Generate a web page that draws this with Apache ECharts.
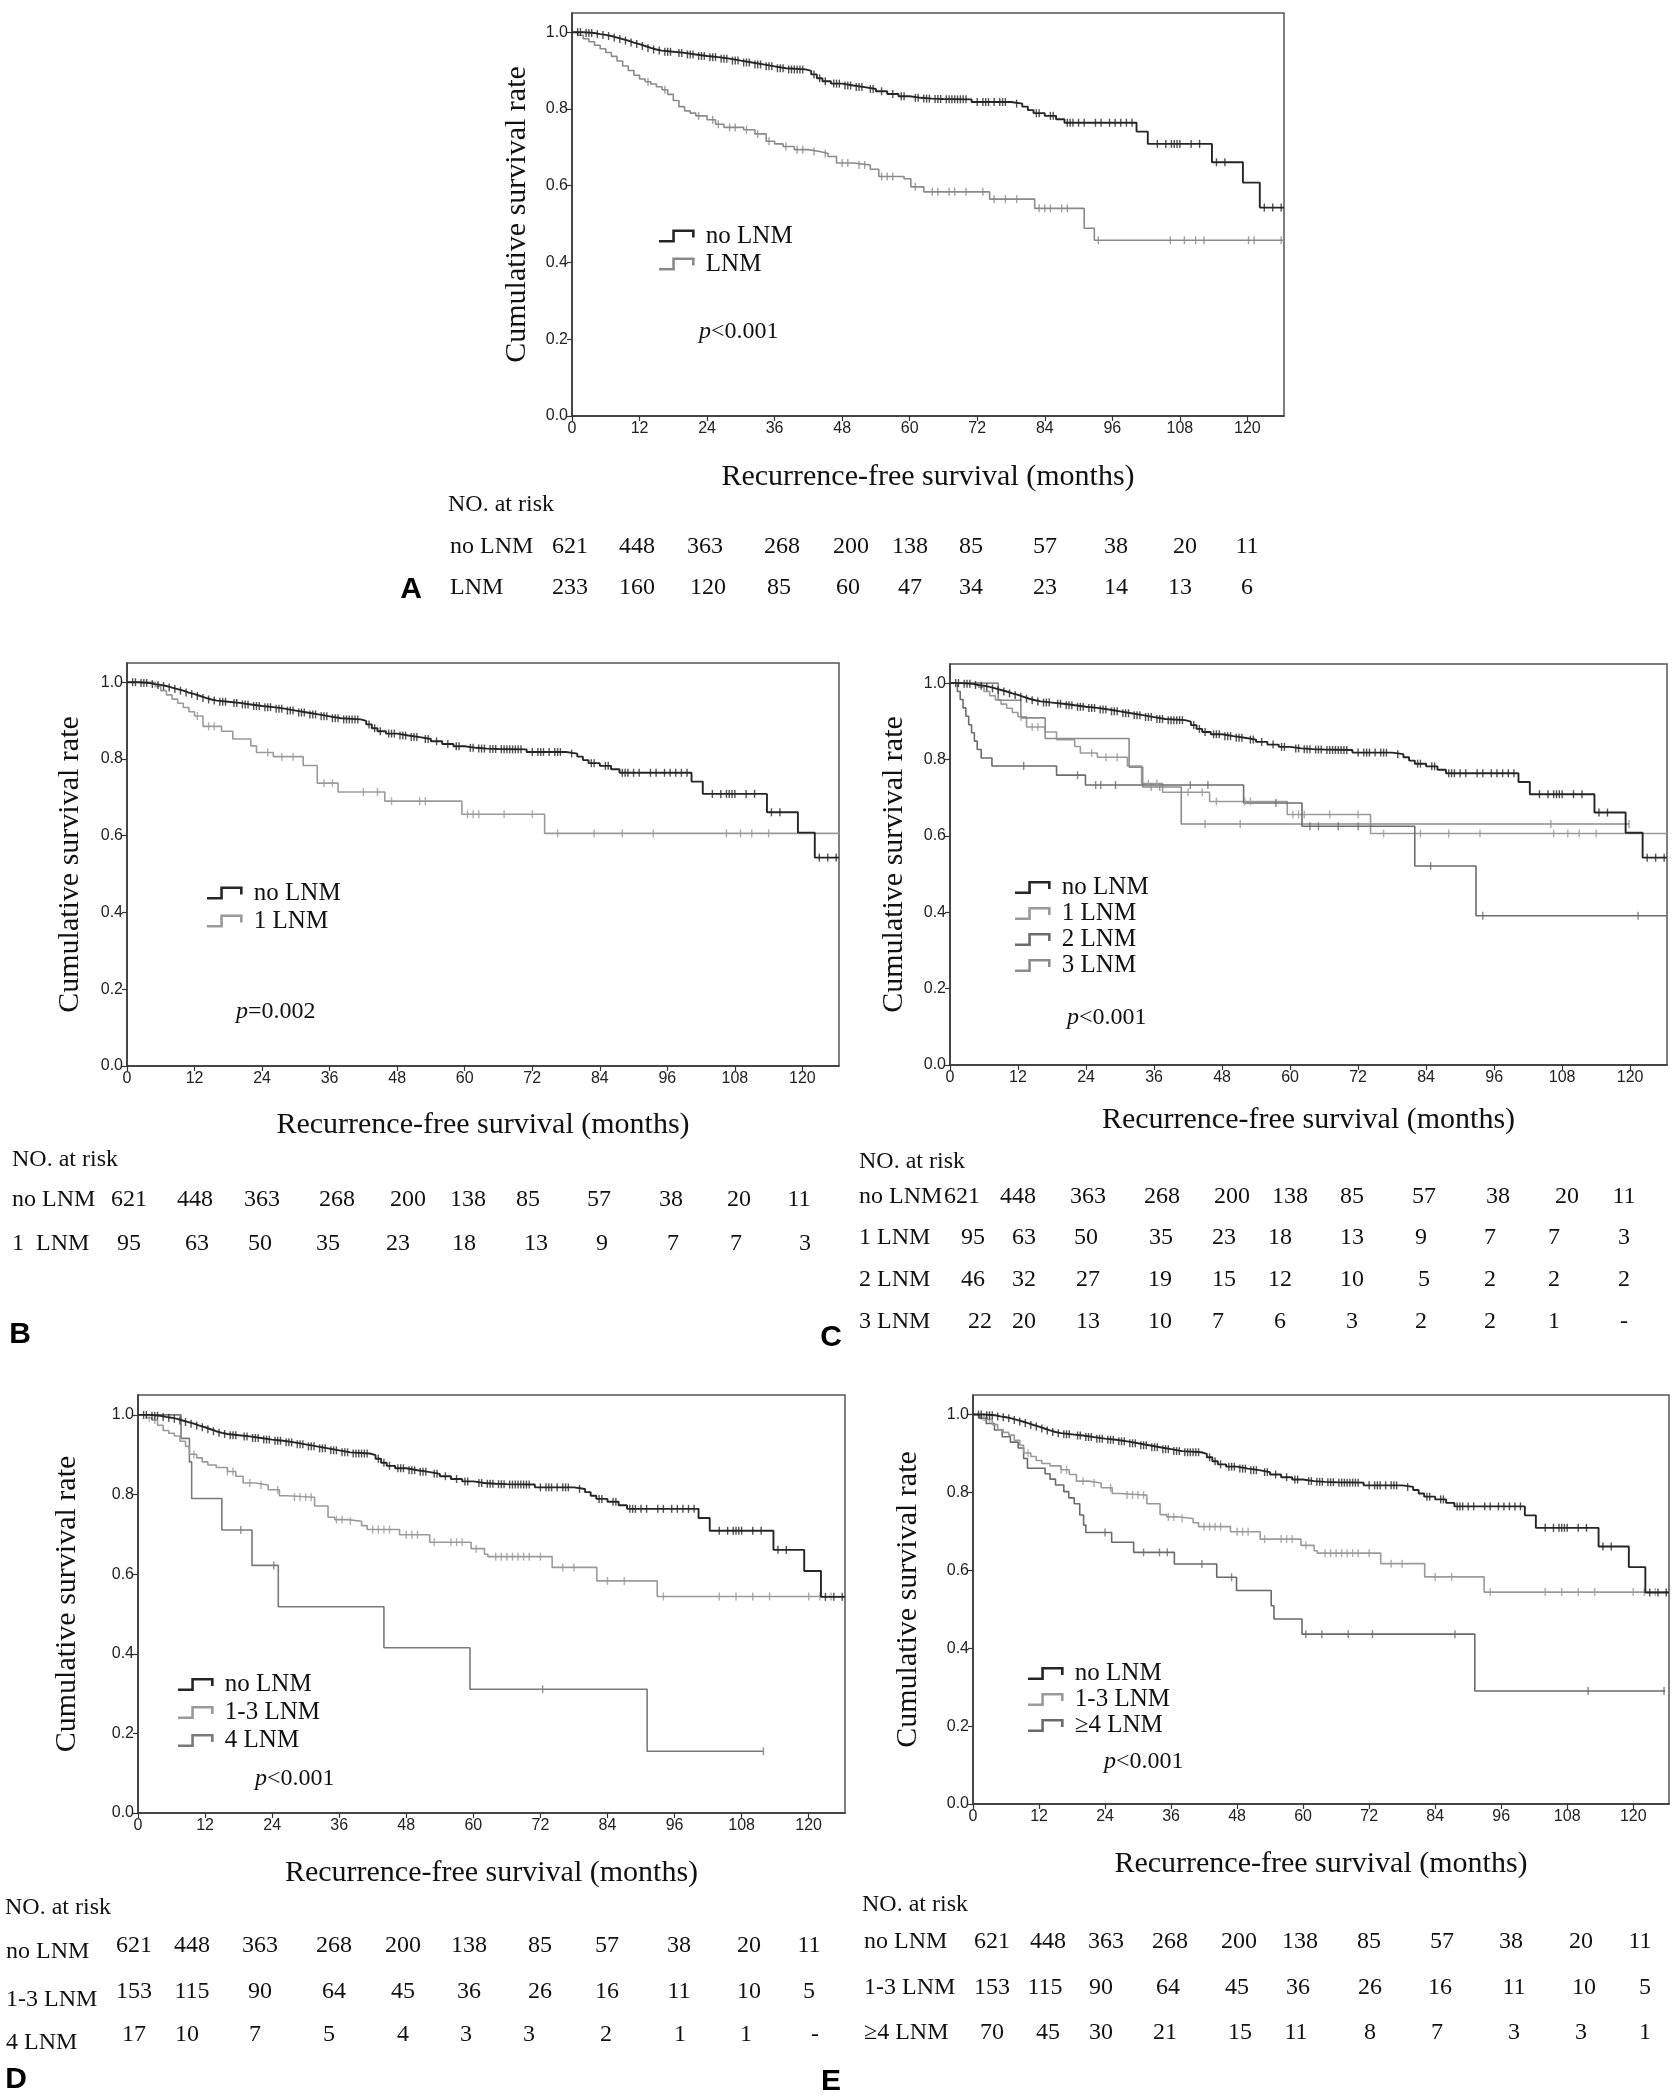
<!DOCTYPE html>
<html><head><meta charset="utf-8">
<script src="https://cdn.jsdelivr.net/npm/echarts@6/dist/echarts.min.js"></script>
<style>html,body{margin:0;padding:0;background:#fff}#c{width:1676px;height:2100px}</style>
</head><body><div id="c"></div>
<script>
// ---------------- DATA ----------------
const riskMonths = [0,12,24,36,48,60,72,84,96,108,120];
const yTickValues = [0,0.2,0.4,0.6,0.8,1.0];

// Kaplan-Meier step points: time (months) and survival after the step
const noLNM_t = [0,2,4,5,6,7,8,9,10,11,12,13,14,15,16,18,20,22,24,26,28,30,32,34,36,38,41.5,42.5,43.5,44.5,46,48,50,52,54,56,58,60,62,64,66,71,78,80,81,82,84,86,87.5,100.3,102.3,113.7,119.2,122.2,126.5];
const noLNM_s = [1.0,.998,.995,.993,.99,.986,.982,.978,.973,.969,.964,.959,.955,.952,.949,.946,.942,.938,.935,.931,.926,.921,.916,.911,.906,.903,.899,.89,.88,.872,.866,.861,.857,.852,.846,.839,.833,.829,.827,.826,.825,.818,.814,.806,.797,.789,.782,.773,.764,.741,.709,.661,.608,.543,.543];
const noLNM_cens = [1,1.5,2.5,3,3.5,4.5,5.5,6.5,7.5,8.5,9.5,10.5,11.5,12.5,13.5,14.5,15.5,16.5,17,17.5,19,19.5,20.5,21,21.5,22.5,23,23.5,24.5,25,25.5,26.5,27,27.5,28.5,29,29.5,30.5,31,31.5,32.5,33,33.5,34.5,35,35.5,36.5,37,37.5,38.5,39,39.5,40,40.5,41,43,44,45,46.5,47,47.5,48.5,49,49.5,50.5,51,51.5,53,53.5,55,57,58.5,59,61,61.5,62.5,63,63.5,64.5,65,65.5,66.5,67,67.5,68,68.5,69,69.5,70,72,73,73.5,74,75,76,76.5,77,79,82.5,83,85,85.5,88,88.5,89,90,91,93,94,95.5,96.5,97.5,98.5,99.5,104,105.5,106.5,107,107.5,108,110,111.5,114.5,116,123,124.5,126];

const LNM_t = [0,1,2,3,4,5,6,7,8,9,10,11,12,13,14,15,16,17,18,19,20,21,22,24,25.5,27,30.5,32.5,34.5,36,37.5,39.5,42,44,45.5,47,50,53,54.5,59,60.2,62.5,74.2,82.2,91,92.8,126.5];
const LNM_s = [1.0,.992,.983,.975,.966,.957,.947,.937,.925,.912,.9,.888,.878,.871,.865,.858,.85,.838,.822,.806,.795,.789,.782,.772,.76,.752,.746,.735,.716,.709,.702,.694,.689,.684,.676,.659,.654,.643,.624,.618,.597,.584,.565,.541,.489,.458,.458];
const LNM_cens = [13.5,16.5,22.5,25,26,28,29,31,33,35,38,40,41,43,45,48,49,51,52,55,56,57,61,64,65,67,68,70,73,75,77,79,83,84,85,87,88,93.5,106.3,108.8,110.8,112.3,120.2,121.2,126];

const one_t = [0,5,6,7,8,9,10,11,12,13.5,16.8,18.8,22,23,26,31.3,33.8,37.5,45.8,59.5,74.2,126.5];
const one_s = [1.0,.989,.978,.967,.956,.945,.934,.923,.912,.885,.872,.852,.834,.817,.806,.783,.737,.714,.69,.656,.606,.606];
const one_cens = [12.5,14.5,15.5,25,27.5,29.5,35,36.5,42,44.5,47,52,53,60.5,61.5,62.5,67,72,76.5,83,88,93.5,106.5,109,111,114];

const two_t = [0,1.3,1.8,2.3,2.8,3.3,3.8,4.3,4.8,5.5,7.4,18.8,23.9,51.8,62.1,82,92.8,126.5];
const two_s = [1.0,.978,.957,.935,.913,.891,.87,.848,.826,.804,.783,.759,.733,.686,.625,.521,.391,.391];
const two_cens = [13,22.5,25.7,26.6,29.2,42.4,45.5,57.5,63.5,65,68.5,72,84.8,94,121.4];

const three_t = [0,8.5,12.5,16.8,31.6,34,40.8,119.8];
const three_s = [1.0,.955,.909,.855,.78,.728,.631,.631];
const three_cens = [35.5,37,45,51.2,106,119.8];

const oneToThree_t = [0,1.5,2.5,3.5,4.5,5.5,6.5,7.5,8.5,9.2,10.5,11.5,12.5,14,16,17.5,18.8,21,23.3,25.3,26.7,31.6,34,35.2,37.5,40,41,46.8,52.2,59.6,62,62.6,74.1,82.1,92.9,126.5];
const oneToThree_s = [1.0,.993,.987,.974,.961,.954,.947,.934,.921,.901,.892,.882,.874,.868,.858,.846,.829,.824,.812,.797,.793,.771,.743,.737,.733,.722,.712,.699,.68,.664,.65,.644,.617,.583,.544,.544];
const oneToThree_cens = [2,3,10,16,17,20,22,25,28,29,30,31,35.5,36.5,38,42,43,44,45,48,49,50,53,56,57,58,60.5,64,65,66,67,68,69,70,72,76,78,84,87,94,104,107,110,113,120,122,124];

const four_t = [0,7.7,9.2,9.6,15,20.4,25.1,44,59.4,91.1,111.9];
const four_s = [1.0,.941,.882,.79,.711,.622,.518,.415,.311,.155,.155];
const four_cens = [18.4,24.3,72.4,111.9];

const geFour_t = [0,1.2,2.4,3.9,5.3,6.8,8.2,9.2,9.9,13.1,14,15,16.5,17.4,18.4,19.4,20.1,20.5,25.2,29.2,36.6,44.3,47.9,54.2,54.7,59.8,91.2,125.8];
const geFour_s = [1.0,.99,.977,.96,.943,.929,.914,.887,.862,.848,.834,.819,.802,.786,.771,.742,.716,.697,.672,.646,.616,.582,.548,.509,.475,.436,.29,.29];
const geFour_cens = [24,31,33.9,35.3,41.6,47,60.5,63.4,68.2,72.6,87.6,111.8,125.6];

// Numbers at risk
const riskNoLNM = [621,448,363,268,200,138,85,57,38,20,11];
const riskLNM = [233,160,120,85,60,47,34,23,14,13,6];
const risk1LNM = [95,63,50,35,23,18,13,9,7,7,3];
const risk2LNM = [46,32,27,19,15,12,10,5,2,2,2];
const risk3LNM = [22,20,13,10,7,6,3,2,2,1,'-'];
const risk13LNM = [153,115,90,64,45,36,26,16,11,10,5];
const risk4LNM = [17,10,7,5,4,3,3,2,1,1,'-'];
const riskGe4LNM = [70,45,30,21,15,11,8,7,3,3,1];

const pValues = ['<0.001','=0.002','<0.001','<0.001','<0.001'];

// ---------------- STYLE / LAYOUT ----------------
const SERIF = "'Liberation Serif','Times New Roman','DejaVu Serif',serif";
const TICKFONT = "'Liberation Sans Narrow','Liberation Sans',Arial,sans-serif";
const SANS = "'Liberation Sans',Arial,sans-serif";
const C_NO = '#262626', C_LNM = '#8a8a8a', C_1 = '#9a9a9a', C_2 = '#6c6c6c', C_3 = '#8c8c8c', C_13 = '#9a9a9a', C_4 = '#7a7a7a', C_GE4 = '#6a6a6a';
const ICON = 'path://M0,10.25L12.75,10.25L12.75,0.25L34.25,0.25L34.25,8L31.75,8L31.75,2.75L15.25,2.75L15.25,12.75L0,12.75Z';

const curves = {
  'no LNM': {t: noLNM_t, s: noLNM_s, c: noLNM_cens, color: C_NO},
  'LNM': {t: LNM_t, s: LNM_s, c: LNM_cens, color: C_LNM},
  '1 LNM': {t: one_t, s: one_s, c: one_cens, color: C_1},
  '2 LNM': {t: two_t, s: two_s, c: two_cens, color: C_2},
  '3 LNM': {t: three_t, s: three_s, c: three_cens, color: C_3},
  '1-3 LNM': {t: oneToThree_t, s: oneToThree_s, c: oneToThree_cens, color: C_13},
  '4 LNM': {t: four_t, s: four_s, c: four_cens, color: C_4},
  '≥4 LNM': {t: geFour_t, s: geFour_s, c: geFour_cens, color: C_GE4}
};

// riskRows: [label, values, numbers y, label y, optional own column x list]
const panels = [
  {grid:{left:572, top:13, width:712, height:403}, yGap:40, xGap:46,
   curves:['LNM','no LNM'], legend:['no LNM','LNM'], lg:{left:654, top:218, lh:26, gap:2},
   p:{x:699, y:332},
   riskCols:[570,637,705,782,851,910,971,1045,1116,1185,1247],
   riskRows:[['no LNM', riskNoLNM, 547, 547],['LNM', riskLNM, 588, 588, [570,637,708,779,848,910,971,1045,1116,1180,1247]]],
   labelX:450, noAt:[448,505], letter:['A',411,590]},
  {grid:{left:127, top:663, width:712, height:403}, yGap:42, xGap:44,
   curves:['1 LNM','no LNM'], legend:['no LNM','1 LNM'], lg:{left:202, top:875, lh:26, gap:2},
   p:{x:236, y:1012},
   riskCols:[129,195,262,337,408,468,528,599,671,739,799],
   riskRows:[['no LNM', riskNoLNM, 1200, 1200],['1  LNM', risk1LNM, 1244, 1244, [129,197,260,328,398,464,536,602,673,736,805]]],
   labelX:12, noAt:[12,1160], letter:['B',20,1335]},
  {grid:{left:950, top:664, width:717, height:401}, yGap:41, xGap:40,
   curves:['1 LNM','3 LNM','2 LNM','no LNM'], legend:['no LNM','1 LNM','2 LNM','3 LNM'], lg:{left:1010, top:870, lh:25, gap:1},
   p:{x:1067, y:1018},
   riskCols:[962,1018,1088,1162,1232,1290,1352,1424,1498,1567,1624],
   riskRows:[['no LNM', riskNoLNM, 1197, 1197],
             ['1 LNM', risk1LNM, 1238, 1238, [973,1024,1086,1161,1224,1280,1352,1421,1490,1554,1624]],
             ['2 LNM', risk2LNM, 1280, 1280, [973,1024,1088,1160,1224,1280,1352,1424,1490,1554,1624]],
             ['3 LNM', risk3LNM, 1322, 1322, [980,1024,1088,1160,1218,1280,1352,1421,1490,1554,1624]]],
   labelX:859, noAt:[859,1162], letter:['C',831,1338]},
  {grid:{left:138, top:1395, width:707, height:418}, yGap:56, xGap:45,
   curves:['4 LNM','1-3 LNM','no LNM'], legend:['no LNM','1-3 LNM','4 LNM'], lg:{left:173, top:1666, lh:27, gap:1},
   p:{x:255, y:1779},
   riskCols:[134,192,260,334,403,469,540,607,679,749,809],
   riskRows:[['no LNM', riskNoLNM, 1946, 1952],['1-3 LNM', risk13LNM, 1992, 2000],['4 LNM', risk4LNM, 2035, 2043, [134,187,255,329,403,466,529,606,680,746,815]]],
   labelX:6, noAt:[5,1908], letter:['D',16,2080]},
  {grid:{left:973, top:1395, width:696, height:409}, yGap:50, xGap:45,
   curves:['≥4 LNM','1-3 LNM','no LNM'], legend:['no LNM','1-3 LNM','≥4 LNM'], lg:{left:1023, top:1656, lh:25, gap:1},
   p:{x:1104, y:1762},
   riskCols:[992,1048,1106,1170,1239,1300,1369,1442,1511,1581,1640],
   riskRows:[['no LNM', riskNoLNM, 1942, 1942],['1-3 LNM', risk13LNM, 1988, 1988, [992,1045,1101,1168,1237,1298,1370,1440,1514,1584,1645]],['≥4 LNM', riskGe4LNM, 2033, 2033, [992,1048,1101,1165,1240,1296,1370,1437,1514,1581,1645]]],
   labelX:864, noAt:[862,1905], letter:['E',831,2082]}
];

function survAt(t, s, x) {
  let v = s[0];
  for (let i = 0; i < t.length; i++) { if (t[i] <= x) v = s[i]; else break; }
  return v;
}

// ---------------- BUILD OPTION ----------------
const grids = [], xAxes = [], yAxes = [], series = [], legends = [], graphics = [];
panels.forEach((P, k) => {
  grids.push(Object.assign({show:true, borderColor:'#555', borderWidth:1.5, backgroundColor:'#fff', containLabel:false}, P.grid));
  xAxes.push({type:'value', gridIndex:k, min:0, max:126.5, interval:12,
    name:'Recurrence-free survival (months)', nameLocation:'middle', nameGap:P.xGap,
    nameTextStyle:{fontFamily:SERIF, fontSize:30, color:'#111'},
    axisLine:{show:true, onZero:false, lineStyle:{color:'#333', width:1.5}},
    axisTick:{show:true, length:5, lineStyle:{color:'#333', width:1.2}},
    axisLabel:{showMaxLabel:false, fontFamily:TICKFONT, fontSize:16, color:'#222', margin:5},
    splitLine:{show:false}});
  yAxes.push({type:'value', gridIndex:k, min:0, max:1.05, interval:0.2,
    name:'Cumulative survival rate', nameLocation:'middle', nameRotate:90, nameGap:P.yGap,
    nameTextStyle:{fontFamily:SERIF, fontSize:30, color:'#111'},
    axisLine:{show:true, onZero:false, lineStyle:{color:'#333', width:1.5}},
    axisTick:{show:true, length:5, lineStyle:{color:'#333', width:1.2}},
    axisLabel:{showMaxLabel:false, fontFamily:TICKFONT, fontSize:16, color:'#222', margin:4,
      formatter: v => v.toFixed(1)},
    splitLine:{show:false}});
  P.curves.forEach(name => {
    const C = curves[name];
    const isNo = name === 'no LNM';
    series.push({type:'line', name:name, xAxisIndex:k, yAxisIndex:k, step:'end', symbol:'none',
      data: C.t.map((t,i) => [t, C.s[i]]),
      lineStyle:{color:C.color, width:isNo?1.9:1.6}, itemStyle:{color:C.color},
      silent:true, animation:false, z: isNo?4:3});
    series.push({type:'scatter', name:name + ' (censored)', xAxisIndex:k, yAxisIndex:k,
      symbol:'rect', symbolSize:[1.4, 8],
      data: C.c.map(x => [x, survAt(C.t, C.s, x)]),
      itemStyle:{color:C.color}, silent:true, animation:false, z: isNo?4:3});
  });
  legends.push({orient:'vertical', left:P.lg.left, top:P.lg.top, itemWidth:36, itemHeight:13, itemGap:P.lg.gap,
    icon:ICON, selectedMode:false, itemStyle:{borderWidth:0},
    textStyle:{fontFamily:SERIF, fontSize:25, color:'#111', lineHeight:P.lg.lh, padding:[0,0,0,6]},
    data:P.legend});
  graphics.push({type:'text', x:P.p.x, y:P.p.y, silent:true,
    style:{text:'{i|p}' + pValues[k], fontFamily:SERIF, fontSize:24, fill:'#111', align:'left', verticalAlign:'middle',
      rich:{i:{fontStyle:'italic', fontFamily:SERIF, fontSize:24, fill:'#111'}}}});
  graphics.push({type:'text', x:P.noAt[0], y:P.noAt[1], silent:true,
    style:{text:'NO. at risk', fontFamily:SERIF, fontSize:24, fill:'#111', align:'left', verticalAlign:'middle'}});
  P.riskRows.forEach(row => {
    const cols = row[4] || P.riskCols;
    graphics.push({type:'text', x:P.labelX, y:row[3], silent:true,
      style:{text:row[0], fontFamily:SERIF, fontSize:24, fill:'#111', align:'left', verticalAlign:'middle'}});
    row[1].forEach((v, j) => {
      graphics.push({type:'text', x:cols[j], y:row[2], silent:true,
        style:{text:String(v), fontFamily:SERIF, fontSize:24, fill:'#111', align:'center', verticalAlign:'middle'}});
    });
  });
  graphics.push({type:'text', x:P.letter[1], y:P.letter[2], silent:true,
    style:{text:P.letter[0], fontFamily:SANS, fontWeight:'bold', fontSize:30, fill:'#000', align:'center', verticalAlign:'middle'}});
});

const chart = echarts.init(document.getElementById('c'), null, {renderer:'canvas', width:1676, height:2100});
chart.setOption({
  animation:false,
  backgroundColor:'#fff',
  grid:grids, xAxis:xAxes, yAxis:yAxes, series:series, legend:legends, graphic:graphics
});
</script>
</body></html>
